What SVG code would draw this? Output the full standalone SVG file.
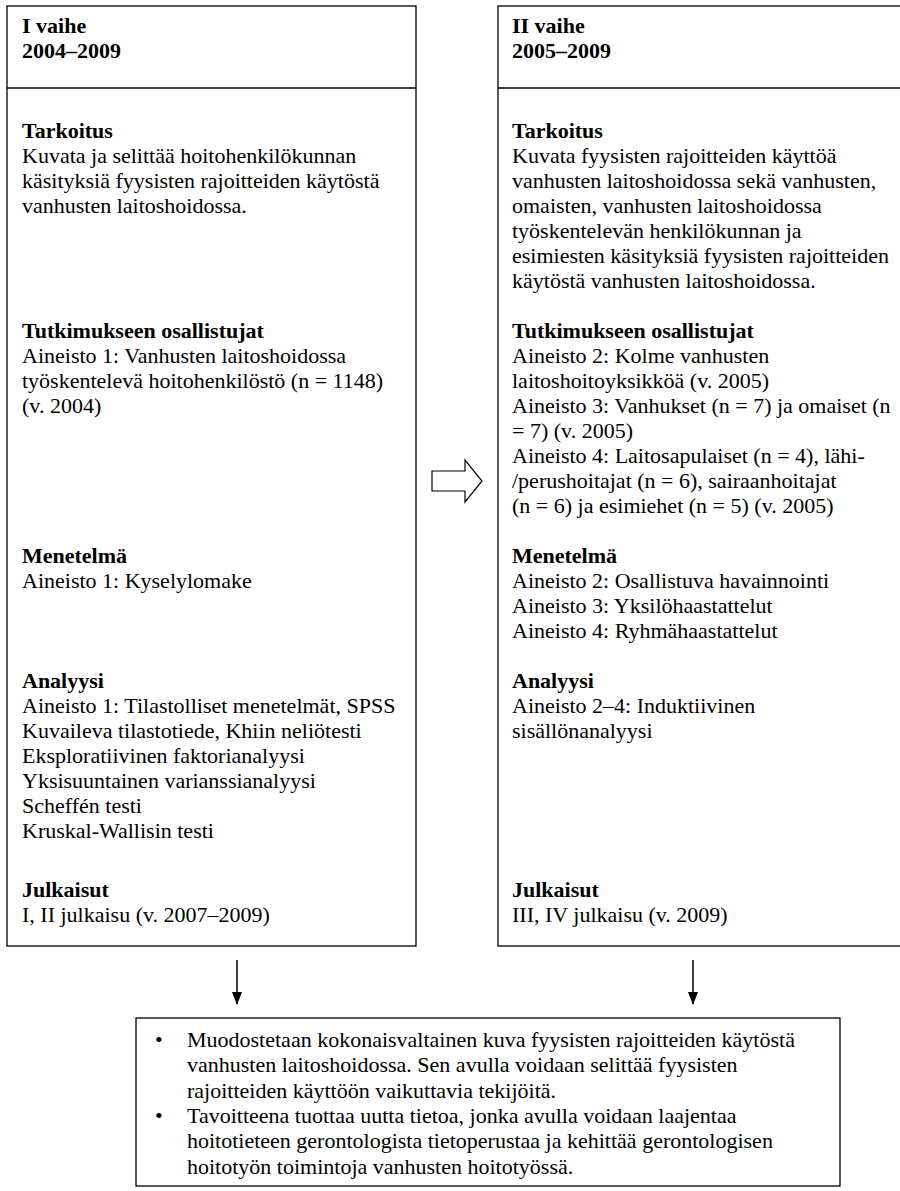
<svg xmlns="http://www.w3.org/2000/svg" width="900" height="1191" viewBox="0 0 900 1191">
<style>
text{font-family:"Liberation Serif","Times New Roman",serif;font-size:22px;fill:#000}
.b{font-weight:bold}
.box{fill:#fff;stroke:#000;stroke-width:1.3}
.ln{stroke:#000;stroke-width:1.3}
.conn{stroke:#000;stroke-width:1.5;fill:none}
</style>
<defs>
<marker id="ah" markerWidth="13" markerHeight="10" refX="12" refY="5" orient="auto" markerUnits="userSpaceOnUse" viewBox="0 0 13 10">
<path d="M0,0 L13,5 L0,10 Z" fill="#000"/>
</marker>
</defs>
<rect width="900" height="1191" fill="#fff"/>
<g id="phase1">
<rect class="box" x="7" y="6" width="409" height="940"/>
<line class="ln" x1="7" y1="88" x2="416" y2="88"/>
<text class="b" x="22" y="33">I vaihe</text>
<text class="b" x="22" y="58">2004–2009</text>
<text class="b" x="22" y="138">Tarkoitus</text>
<text x="22" y="163">Kuvata ja selittää hoitohenkilökunnan</text>
<text x="22" y="188">käsityksiä fyysisten rajoitteiden käytöstä</text>
<text x="22" y="213">vanhusten laitoshoidossa.</text>
<text class="b" x="22" y="338">Tutkimukseen osallistujat</text>
<text x="22" y="363">Aineisto 1: Vanhusten laitoshoidossa</text>
<text x="22" y="388">työskentelevä hoitohenkilöstö (n = 1148)</text>
<text x="22" y="413">(v. 2004)</text>
<text class="b" x="22" y="563">Menetelmä</text>
<text x="22" y="588">Aineisto 1: Kyselylomake</text>
<text class="b" x="22" y="688">Analyysi</text>
<text x="22" y="713">Aineisto 1: Tilastolliset menetelmät, SPSS</text>
<text x="22" y="738">Kuvaileva tilastotiede, Khiin neliötesti</text>
<text x="22" y="763">Eksploratiivinen faktorianalyysi</text>
<text x="22" y="788">Yksisuuntainen varianssianalyysi</text>
<text x="22" y="813">Scheffén testi</text>
<text x="22" y="838">Kruskal-Wallisin testi</text>
<text class="b" x="22" y="897">Julkaisut</text>
<text x="22" y="922">I, II julkaisu (v. 2007–2009)</text>
</g>
<g id="phase2">
<rect class="box" x="498" y="6" width="420" height="940"/>
<line class="ln" x1="498" y1="88" x2="918" y2="88"/>
<text class="b" x="512" y="33">II vaihe</text>
<text class="b" x="512" y="58">2005–2009</text>
<text class="b" x="512" y="138">Tarkoitus</text>
<text x="512" y="163">Kuvata fyysisten rajoitteiden käyttöä</text>
<text x="512" y="188">vanhusten laitoshoidossa sekä vanhusten,</text>
<text x="512" y="213">omaisten, vanhusten laitoshoidossa</text>
<text x="512" y="238">työskentelevän henkilökunnan ja</text>
<text x="512" y="263">esimiesten käsityksiä fyysisten rajoitteiden</text>
<text x="512" y="288">käytöstä vanhusten laitoshoidossa.</text>
<text class="b" x="512" y="338">Tutkimukseen osallistujat</text>
<text x="512" y="363">Aineisto 2: Kolme vanhusten</text>
<text x="512" y="388">laitoshoitoyksikköä (v. 2005)</text>
<text x="512" y="413">Aineisto 3: Vanhukset (n = 7) ja omaiset (n</text>
<text x="512" y="438">= 7) (v. 2005)</text>
<text x="512" y="463">Aineisto 4: Laitosapulaiset (n = 4), lähi-</text>
<text x="512" y="488">/perushoitajat (n = 6), sairaanhoitajat</text>
<text x="512" y="513">(n = 6) ja esimiehet (n = 5) (v. 2005)</text>
<text class="b" x="512" y="563">Menetelmä</text>
<text x="512" y="588">Aineisto 2: Osallistuva havainnointi</text>
<text x="512" y="613">Aineisto 3: Yksilöhaastattelut</text>
<text x="512" y="638">Aineisto 4: Ryhmähaastattelut</text>
<text class="b" x="512" y="688">Analyysi</text>
<text x="512" y="713">Aineisto 2–4: Induktiivinen</text>
<text x="512" y="738">sisällönanalyysi</text>
<text class="b" x="512" y="897">Julkaisut</text>
<text x="512" y="922">III, IV julkaisu (v. 2009)</text>
</g>
<g id="outcome">
<rect class="box" x="136" y="1018" width="704" height="168"/>
<text x="155" y="1047">•</text>
<text x="187" y="1047">Muodostetaan kokonaisvaltainen kuva fyysisten rajoitteiden käytöstä</text>
<text x="187" y="1072.3">vanhusten laitoshoidossa. Sen avulla voidaan selittää fyysisten</text>
<text x="187" y="1097.6">rajoitteiden käyttöön vaikuttavia tekijöitä.</text>
<text x="155" y="1122.9">•</text>
<text x="187" y="1122.9">Tavoitteena tuottaa uutta tietoa, jonka avulla voidaan laajentaa</text>
<text x="187" y="1148.2">hoitotieteen gerontologista tietoperustaa ja kehittää gerontologisen</text>
<text x="187" y="1173.5">hoitotyön toimintoja vanhusten hoitotyössä.</text>
</g>
<g id="connectors">
<path class="conn" d="M237,960 L237,1004" marker-end="url(#ah)"/>
<path class="conn" d="M693,960 L693,1004" marker-end="url(#ah)"/>
<path d="M432,471 L465,471 L465,460 L482,481 L465,502 L465,491 L432,491 Z" fill="#fff" stroke="#000" stroke-width="1.2"/>
</g>
</svg>
